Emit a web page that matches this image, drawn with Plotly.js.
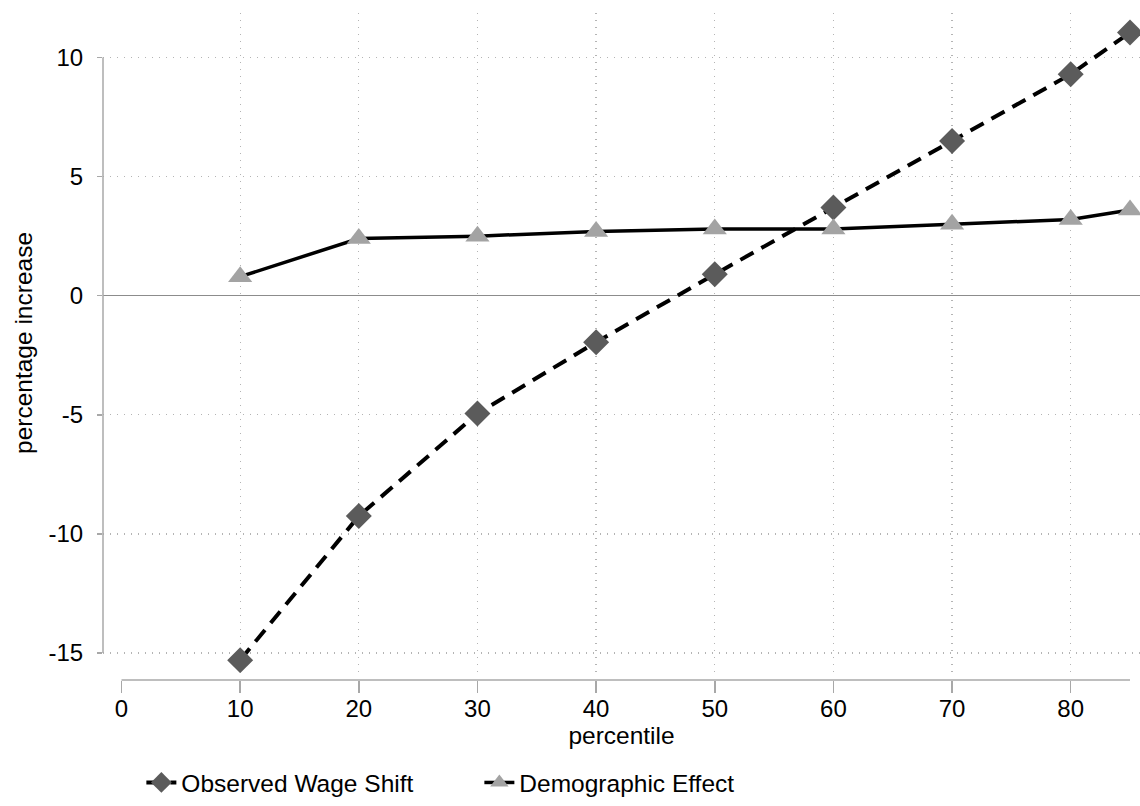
<!DOCTYPE html>
<html>
<head>
<meta charset="utf-8">
<script src="https://cdn.plot.ly/plotly-3.0.1.min.js"></script>
<style>
  html, body { margin: 0; padding: 0; background: #fff; }
  #plot { width: 1140px; height: 806px; }
</style>
</head>
<body>
<div id="plot"></div>
<script>
// percentiles of the wage distribution
const percentiles = [10, 20, 30, 40, 50, 60, 70, 80, 85];

// percentage increase at each percentile
const observedShift = [-15.3, -9.25, -4.95, -1.95, 0.9, 3.7, 6.5, 9.3, 11.05];
const demographicEffect = [0.8, 2.4, 2.5, 2.7, 2.8, 2.8, 3.0, 3.2, 3.6];

const xTicks = [0, 10, 20, 30, 40, 50, 60, 70, 80];
const xGridTicks = [10, 20, 30, 40, 50, 60, 70, 80];
const yTicks = [-15, -10, -5, 0, 5, 10];
const yTickText = ['-15', '-10', '-5', '0', '5', '10'];

const font = 'Liberation Sans, Arial, Helvetica, sans-serif';
const axisGray = '#a8a8a8';
const gridGray = '#b4b4b4';

let trace1 = {
    x: percentiles,
    y: observedShift,
    name: 'Observed Wage Shift',
    mode: 'lines+markers',
    type: 'scatter',
    line: { color: '#000', width: 4, dash: '15px,9px' },
    marker: { symbol: 'diamond', size: 20, color: '#5b5b5b', line: { width: 0 } }
};

let trace2 = {
    x: percentiles,
    y: demographicEffect,
    name: 'Demographic Effect',
    mode: 'lines+markers',
    type: 'scatter',
    line: { color: '#000', width: 3.5 },
    marker: { symbol: 'triangle-up', size: 21, color: '#a3a3a3', line: { width: 0 } }
};

let layout = {
    width: 1140,
    height: 806,
    margin: { l: 103, r: 0, t: 13, b: 126, autoexpand: false },
    paper_bgcolor: '#fff',
    plot_bgcolor: '#fff',
    font: { family: font, size: 24, color: '#000' },
    showlegend: true,
    legend: {
        orientation: 'h',
        x: 0.037,
        xanchor: 'left',
        y: -0.12,
        yanchor: 'top',
        entrywidth: 293,
        font: { family: font, size: 24.5, color: '#000' }
    },
    xaxis: {
        range: [-1.56, 85.84],
        anchor: 'free',
        position: 0,
        tickvals: xTicks,
        ticks: 'outside',
        ticklen: 12,
        tickwidth: 1.5,
        tickcolor: axisGray,
        ticklabelstandoff: -5,
        showgrid: false,
        zeroline: false,
        showline: false,
        title: { text: 'percentile', font: { family: font, size: 24.5 }, standoff: 0 }
    },
    xaxis2: {
        range: [-1.56, 85.84],
        overlaying: 'x',
        anchor: 'y',
        tickvals: xGridTicks,
        showticklabels: false,
        ticks: '',
        showgrid: true,
        gridcolor: gridGray,
        gridwidth: 1.3,
        griddash: '1.3px,5.7px',
        zeroline: false
    },
    yaxis: {
        range: [-15.84, 11.87],
        domain: [0.0105, 1],
        tickvals: yTicks,
        ticktext: yTickText,
        ticks: 'outside',
        ticklen: 5,
        tickwidth: 1.5,
        tickcolor: axisGray,
        ticklabelstandoff: 9,
        showgrid: true,
        gridcolor: gridGray,
        gridwidth: 1.3,
        griddash: '1.3px,5.7px',
        zeroline: true,
        zerolinecolor: '#8c8c8c',
        zerolinewidth: 1.5,
        showline: false,
        title: { text: 'percentage increase', font: { family: font, size: 24.5 }, standoff: 8 }
    },
    shapes: [
        // axis lines, Stata style: only across the labelled range
        { type: 'line', xref: 'x', yref: 'paper', x0: 0, x1: 85, y0: 0, y1: 0,
          line: { color: axisGray, width: 1.5 } },
        { type: 'line', xref: 'paper', yref: 'y', x0: 0, x1: 0, y0: -15, y1: 10,
          line: { color: axisGray, width: 1.5 } }
    ]
};

// empty trace so the grid axis gets drawn
let gridTrace = { x: [], y: [], xaxis: 'x2', yaxis: 'y', showlegend: false, type: 'scatter' };

Plotly.newPlot('plot', [gridTrace, trace1, trace2], layout, { displayModeBar: false, staticPlot: true });
</script>
</body>
</html>
